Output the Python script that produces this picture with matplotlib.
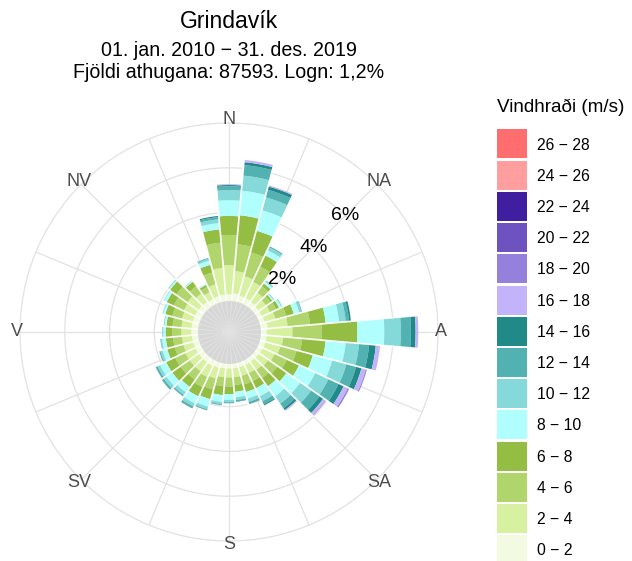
import matplotlib
matplotlib.use("Agg")
import matplotlib.pyplot as plt
import numpy as np
from matplotlib.patches import Rectangle

plt.rcParams['font.family'] = ['Liberation Sans', 'DejaVu Sans']

# ---------------- data ----------------
directions = np.arange(0, 360, 10)  # degrees, bar centres
speed_bins = ["0 − 2", "2 − 4", "4 − 6", "6 − 8", "8 − 10", "10 − 12", "12 − 14",
              "14 − 16", "16 − 18", "18 − 20", "20 − 22", "22 − 24", "24 − 26", "26 − 28"]
bin_colors = ["#F2FBE1", "#D8F1A0", "#B1D56D", "#94BD44", "#B0FEFE", "#85D9D9", "#52B1B1",
              "#1F8A88", "#C3B3FA", "#9580DC", "#6E52C0", "#3F1F9F", "#FF9E9E", "#FF6E6E"]

# frequency (%) per direction for each speed bin
s0_2 = [0.35, 0.40, 0.35, 0.35, 0.33, 0.30, 0.30, 0.32, 0.40, 0.35, 0.35, 0.35,
        0.33, 0.32, 0.30, 0.30, 0.30, 0.30, 0.30, 0.30, 0.33, 0.35, 0.33, 0.33,
        0.33, 0.33, 0.33, 0.35, 0.35, 0.35, 0.35, 0.35, 0.33, 0.30, 0.33, 0.35]
s2_4 = [1.30, 1.00, 0.90, 0.80, 0.50, 0.40, 0.40, 0.50, 0.90, 1.15, 0.75, 0.70,
        0.60, 0.50, 0.45, 0.40, 0.40, 0.40, 0.40, 0.40, 0.50, 0.55, 0.50, 0.50,
        0.50, 0.45, 0.45, 0.45, 0.45, 0.50, 0.55, 0.60, 0.45, 0.35, 0.55, 1.19]
s4_6 = [1.35, 1.20, 1.10, 0.75, 0.35, 0.25, 0.30, 0.50, 1.00, 1.30, 0.85, 0.75,
        0.60, 0.50, 0.45, 0.40, 0.40, 0.35, 0.40, 0.40, 0.50, 0.50, 0.45, 0.50,
        0.50, 0.40, 0.40, 0.40, 0.40, 0.45, 0.50, 0.60, 0.40, 0.25, 0.55, 1.13]
s6_8 = [0.85, 1.30, 1.00, 0.55, 0.15, 0.10, 0.15, 0.35, 0.70, 1.60, 1.05, 0.75,
        0.60, 0.50, 0.45, 0.35, 0.35, 0.30, 0.35, 0.40, 0.45, 0.45, 0.40, 0.45,
        0.45, 0.35, 0.32, 0.30, 0.28, 0.32, 0.35, 0.35, 0.25, 0.10, 0.35, 0.60]
s8_10 = [0.70, 1.10, 0.95, 0.25, 0.10, 0.06, 0.10, 0.25, 0.60, 1.20, 0.90, 0.90,
         0.80, 0.75, 0.55, 0.40, 0.30, 0.25, 0.25, 0.30, 0.35, 0.35, 0.30, 0.32,
         0.30, 0.22, 0.17, 0.10, 0.08, 0.10, 0.12, 0.07, 0.05, 0.04, 0.20, 0.28]
s10_12 = [0.45, 0.68, 0.60, 0.15, 0.05, 0.03, 0.04, 0.10, 0.30, 0.74, 0.60, 0.65,
          0.65, 0.60, 0.40, 0.25, 0.15, 0.12, 0.10, 0.10, 0.12, 0.15, 0.15, 0.15,
          0.13, 0.10, 0.06, 0.04, 0.03, 0.03, 0.03, 0.03, 0.02, 0.01, 0.08, 0.17]
s12_14 = [0.17, 0.47, 0.35, 0.05, 0.02, 0.01, 0.01, 0.03, 0.15, 0.45, 0.45, 0.45,
          0.50, 0.45, 0.25, 0.15, 0.08, 0.06, 0.05, 0.05, 0.05, 0.08, 0.06, 0.08,
          0.08, 0.05, 0.02, 0.01, 0.01, 0.00, 0.00, 0.00, 0.00, 0.00, 0.04, 0.10]
s14_16 = [0.06, 0.13, 0.15, 0.00, 0.00, 0.00, 0.00, 0.00, 0.08, 0.21, 0.30, 0.25,
          0.25, 0.20, 0.10, 0.05, 0.02, 0.02, 0.00, 0.00, 0.00, 0.02, 0.01, 0.02,
          0.01, 0.00, 0.00, 0.00, 0.00, 0.00, 0.00, 0.00, 0.00, 0.00, 0.00, 0.05]
s16_18 = [0.04, 0.10, 0.05, 0.00, 0.00, 0.00, 0.00, 0.00, 0.00, 0.12, 0.19, 0.20,
          0.20, 0.12, 0.05, 0.00, 0.00, 0.00, 0.00, 0.00, 0.00, 0.00, 0.00, 0.00,
          0.00, 0.00, 0.00, 0.00, 0.00, 0.00, 0.00, 0.00, 0.00, 0.00, 0.00, 0.00]
s18_20 = [0.00, 0.00, 0.00, 0.00, 0.00, 0.00, 0.00, 0.00, 0.00, 0.00, 0.00, 0.05,
          0.07, 0.03, 0.00, 0.00, 0.00, 0.00, 0.00, 0.00, 0.00, 0.00, 0.00, 0.00,
          0.00, 0.00, 0.00, 0.00, 0.00, 0.00, 0.00, 0.00, 0.00, 0.00, 0.00, 0.00]
zeros = [0.0] * 36
series = [s0_2, s2_4, s4_6, s6_8, s8_10, s10_12, s12_14, s14_16, s16_18, s18_20,
          zeros, zeros, zeros, zeros]

grid_values = [2, 4, 6, 8]
radial_labels = ["2%", "4%", "6%"]
compass = ["N", "NA", "A", "SA", "S", "SV", "V", "NV"]
title = "Grindavík"
subtitle1 = "01. jan. 2010 − 31. des. 2019"
subtitle2 = "Fjöldi athugana: 87593. Logn: 1,2%"
legend_title = "Vindhraði (m/s)"

# ---------------- figure ----------------
W, H = 632, 561
fig = plt.figure(figsize=(W / 100, H / 100), dpi=100)
cx, cy, Rpx = 229, 332, 209
r_in = 30 / 22.5          # calm hole in % units
rmax = 8.0
ax = fig.add_axes([(cx - Rpx) / W, (H - cy - Rpx) / H, 2 * Rpx / W, 2 * Rpx / H],
                  projection='polar')
ax.set_theta_zero_location('N')
ax.set_theta_direction(-1)
ax.set_ylim(-r_in, rmax)
ax.spines['polar'].set_visible(False)
ax.set_yticks(grid_values)
ax.set_yticklabels([])
ax.set_xticks(np.deg2rad(np.arange(0, 360, 22.5)))
ax.set_xticklabels([])
ax.grid(color='#E2E2E2', lw=0.9)
for gl in ax.yaxis.get_gridlines():
    gl.set_clip_on(False)
ax.set_axisbelow(True)

theta = np.deg2rad(directions)
width = np.deg2rad(10)
cum = np.zeros(36)
for vals, col in zip(series, bin_colors):
    v = np.array(vals)
    if v.sum() > 0:
        ax.bar(theta, v, width=width, bottom=cum, color=col, edgecolor='none',
               linewidth=0, zorder=2, align='center')
    cum = cum + v

# white separators between bars
totals = cum
for k in range(36):
    th = np.deg2rad(directions[k] + 5)
    top = max(totals[k], totals[(k + 1) % 36]) + 0.05
    ax.plot([th, th], [0, top], color='white', lw=1.2, zorder=3,
            solid_capstyle='butt')

# calm circle
tt = np.linspace(0, 2 * np.pi, 361)
ax.fill_between(tt, -r_in, 0.07, color='#D6D6D6', lw=0, zorder=4)
for k in range(36):
    th = np.deg2rad(directions[k] + 5)
    ax.plot([th, th], [-r_in, 0.07], color='#E3E3E3', lw=0.6, zorder=5)

# labels
for i, lab in enumerate(compass):
    ax.text(np.deg2rad(45 * i), 8.15, lab, ha='center', va='center',
            fontsize=13, color='#4D4D4D', zorder=6)
for r, lab in zip(grid_values, radial_labels):
    ax.text(np.deg2rad(45), r, lab, ha='center', va='center', fontsize=14,
            color='black', zorder=6)

fig.text(cx / W, 1 - 22 / H, title, ha='center', va='center', fontsize=16.6)
fig.text(cx / W, 1 - 50 / H, subtitle1, ha='center', va='center', fontsize=14.1)
fig.text(cx / W, 1 - 72 / H, subtitle2, ha='center', va='center', fontsize=14.1)

# legend
fig.text(497 / W, 1 - 107 / H, legend_title, ha='left', va='center', fontsize=13.6)
for j, (lab, col) in enumerate(zip(speed_bins[::-1], bin_colors[::-1])):
    yc = 144 + 31.2 * j
    fig.patches.append(Rectangle((497 / W, 1 - (yc + 14.5) / H), 30 / W, 29 / H,
                                 transform=fig.transFigure, facecolor=col,
                                 edgecolor='none'))
    fig.text(537 / W, 1 - (yc + 1) / H, lab, ha='left', va='center', fontsize=11.3)

fig.savefig("out.png", dpi=100)
